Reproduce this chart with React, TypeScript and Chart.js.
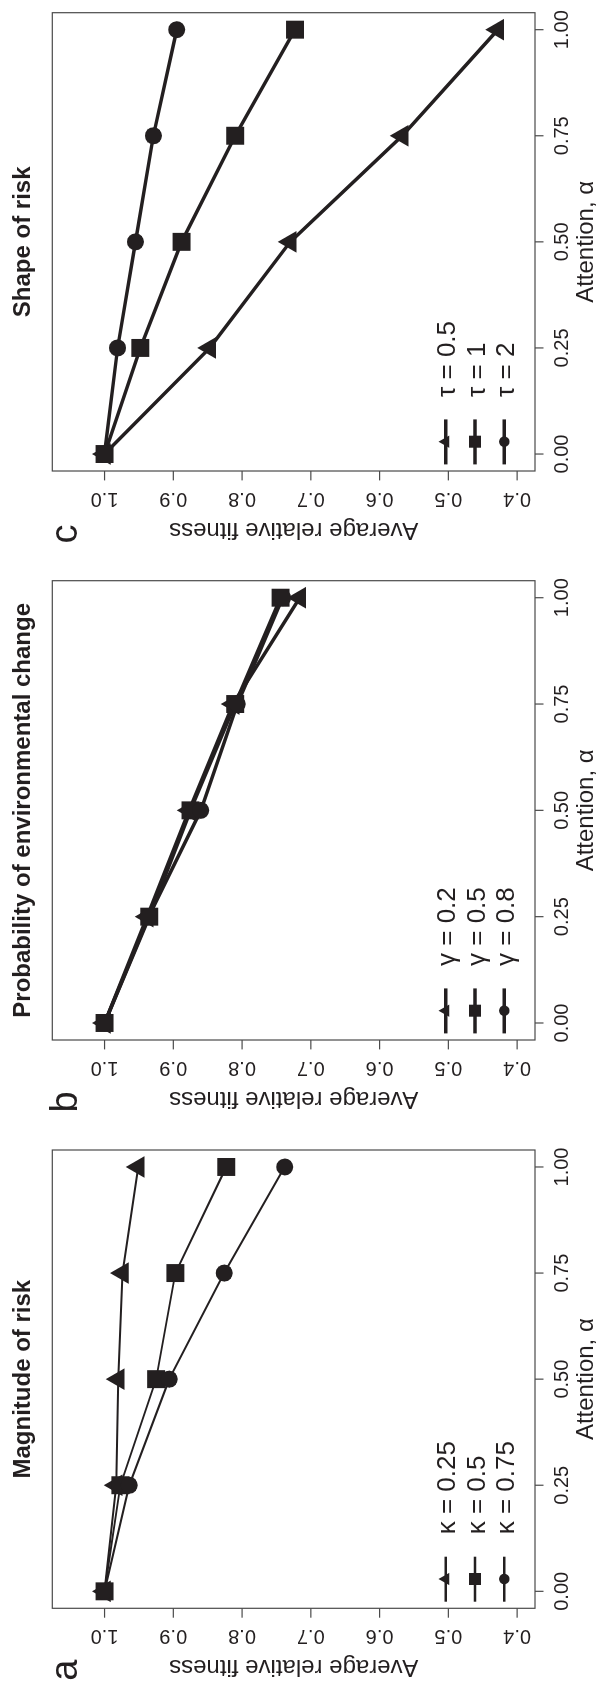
import React, { useEffect, useRef } from 'react';
import { Chart, registerables } from 'chart.js';

Chart.register(...registerables);

// ---------- data ----------
const attention = [0, 0.25, 0.5, 0.75, 1];

// Panel a: Magnitude of risk
const kappa025 = [1.0, 0.983, 0.98, 0.974, 0.951];
const kappa05 = [1.0, 0.977, 0.925, 0.897, 0.823];
const kappa075 = [1.0, 0.964, 0.906, 0.826, 0.738];

// Panel b: Probability of environmental change
const gamma02 = [1.0, 0.938, 0.877, 0.813, 0.716];
const gamma05 = [1.0, 0.935, 0.875, 0.81, 0.744];
const gamma08 = [1.0, 0.936, 0.86, 0.807, 0.741];

// Panel c: Shape of risk
const tau05 = [1.0, 0.847, 0.73, 0.567, 0.428];
const tau1 = [1.0, 0.948, 0.888, 0.81, 0.723];
const tau2 = [1.0, 0.981, 0.955, 0.929, 0.895];

const xTickValues = [0, 0.25, 0.5, 0.75, 1];
const xTickLabels = ['0.00', '0.25', '0.50', '0.75', '1.00'];
const yTickValues = [0.4, 0.5, 0.6, 0.7, 0.8, 0.9, 1.0];
const yTickLabels = ['0.4', '0.5', '0.6', '0.7', '0.8', '0.9', '1.0'];

const panelTitles = ['Magnitude of risk', 'Probability of environmental change', 'Shape of risk'];
const panelLetters = ['a', 'b', 'c'];
const legendA = ['\u03BA = 0.25', '\u03BA = 0.5', '\u03BA = 0.75'];
const legendB = ['\u03B3 = 0.2', '\u03B3 = 0.5', '\u03B3 = 0.8'];
const legendC = ['\u03C4 = 0.5', '\u03C4 = 1', '\u03C4 = 2'];
const xAxisTitle = 'Attention, \u03B1';
const yAxisTitle = 'Average relative fitness';

// ---------- style ----------
const INK = '#231f20';
const BOX = '#4a4a4a';
const FONT = '"Liberation Sans", Arial, Helvetica, sans-serif';
const PANEL_W = 562;
const PANEL_H = 605;

const pointStyles = ['triangle', 'rect', 'circle'];
const pointRadii = [12.5, 12.7, 8.5];
const legendRadii = [7.1, 8.5, 5.3];

const panels = [
  {
    title: panelTitles[0], letter: panelLetters[0], legend: legendA,
    series: [kappa025, kappa05, kappa075], lineWidth: 2, legendLineWidth: 2.5,
    padding: { left: 77.7, right: 26, top: 52.3, bottom: 70 },
  },
  {
    title: panelTitles[1], letter: panelLetters[1], legend: legendB,
    series: [gamma02, gamma05, gamma08], lineWidth: 3.5, legendLineWidth: 3.5,
    padding: { left: 84, right: 18.7, top: 52.3, bottom: 70 },
  },
  {
    title: panelTitles[2], letter: panelLetters[2], legend: legendC,
    series: [tau05, tau1, tau2], lineWidth: 3.5, legendLineWidth: 3.5,
    padding: { left: 91, right: 12.3, top: 52.3, bottom: 70 },
  },
];

function drawMarker(ctx: CanvasRenderingContext2D, style: string, x: number, y: number, r: number) {
  ctx.beginPath();
  if (style === 'triangle') {
    ctx.moveTo(x, y - r);
    ctx.lineTo(x + (r * Math.sqrt(3)) / 2, y + r / 2);
    ctx.lineTo(x - (r * Math.sqrt(3)) / 2, y + r / 2);
    ctx.closePath();
  } else if (style === 'rect') {
    const s = r * Math.SQRT1_2;
    ctx.rect(x - s, y - s, 2 * s, 2 * s);
  } else {
    ctx.arc(x, y, r, 0, Math.PI * 2);
  }
  ctx.fill();
}

function makeFramePlugin(cfg: any) {
  return {
    id: 'frame_' + cfg.letter,
    beforeDatasetsDraw(chart: any) {
      const { ctx, chartArea: ca } = chart;
      ctx.save();
      ctx.strokeStyle = BOX;
      ctx.lineWidth = 1.2;
      ctx.strokeRect(ca.left, ca.top, ca.right - ca.left, ca.bottom - ca.top);
      ctx.restore();
    },
    afterDraw(chart: any) {
      const { ctx, chartArea: ca, scales } = chart;
      const xs = scales.x;
      const ys = scales.y;
      ctx.save();
      // x ticks
      ctx.strokeStyle = BOX;
      ctx.lineWidth = 1.2;
      ctx.fillStyle = INK;
      ctx.font = `20px ${FONT}`;
      ctx.textAlign = 'center';
      ctx.textBaseline = 'alphabetic';
      xTickValues.forEach((v, i) => {
        const px = xs.getPixelForValue(v);
        ctx.beginPath();
        ctx.moveTo(px, ca.bottom);
        ctx.lineTo(px, ca.bottom + 8.5);
        ctx.stroke();
        ctx.fillText(xTickLabels[i], px, ca.bottom + 33);
      });
      // y ticks
      yTickValues.forEach((v, i) => {
        const py = ys.getPixelForValue(v);
        ctx.beginPath();
        ctx.moveTo(ca.left, py);
        ctx.lineTo(ca.left - 9.4, py);
        ctx.stroke();
        ctx.save();
        ctx.translate(ca.left - 21.7, py);
        ctx.rotate(-Math.PI / 2);
        ctx.fillText(yTickLabels[i], 0, 0);
        ctx.restore();
      });
      // axis titles
      ctx.font = `24px ${FONT}`;
      ctx.fillText(xAxisTitle, (ca.left + ca.right) / 2, 593);
      ctx.save();
      ctx.translate(ca.left - 51.7, (ca.top + ca.bottom) / 2);
      ctx.rotate(-Math.PI / 2);
      ctx.fillText(yAxisTitle, 0, 0);
      ctx.restore();
      // main title
      ctx.font = `bold 24px ${FONT}`;
      ctx.fillText(cfg.title, (ca.left + ca.right) / 2, 30);
      // panel letter
      ctx.font = `38px ${FONT}`;
      ctx.textAlign = 'left';
      ctx.fillText(cfg.letter, ca.left - 72.5, 77);
      // legend
      const offsets = [89.3, 60, 30.7];
      ctx.font = `26px ${FONT}`;
      offsets.forEach((off, i) => {
        const ly = ca.bottom - off;
        ctx.strokeStyle = INK;
        ctx.lineWidth = cfg.legendLineWidth;
        ctx.beginPath();
        ctx.moveTo(ca.left + 6.6, ly);
        ctx.lineTo(ca.left + 51.6, ly);
        ctx.stroke();
        ctx.fillStyle = INK;
        drawMarker(ctx, pointStyles[i], ca.left + 29.3, ly, legendRadii[i]);
        ctx.fillText(cfg.legend[i], ca.left + 74, ly + 9.5);
      });
      ctx.restore();
    },
  };
}

function Panel({ cfg, left }: { cfg: any; left: number }) {
  const ref = useRef<HTMLCanvasElement | null>(null);
  useEffect(() => {
    if (!ref.current) return;
    const chart = new Chart(ref.current, {
      type: 'line',
      data: {
        datasets: cfg.series.map((vals: number[], i: number) => ({
          label: cfg.legend[i],
          data: attention.map((a, j) => ({ x: a, y: vals[j] })),
          borderColor: INK,
          backgroundColor: INK,
          borderWidth: cfg.lineWidth,
          pointStyle: pointStyles[i],
          pointRadius: pointRadii[i],
          pointHoverRadius: pointRadii[i],
          pointBackgroundColor: INK,
          pointBorderColor: INK,
          pointBorderWidth: 0,
          tension: 0,
          fill: false,
          clip: false,
          order: 2 - i,
        })),
      },
      options: {
        responsive: false,
        maintainAspectRatio: false,
        animation: false,
        devicePixelRatio: 1,
        events: [],
        layout: { padding: cfg.padding },
        plugins: {
          legend: { display: false },
          tooltip: { enabled: false },
          title: { display: false },
        },
        scales: {
          x: { type: 'linear', min: -0.04, max: 1.04, display: false },
          y: { type: 'linear', min: 0.374, max: 1.076, display: false },
        },
      },
      plugins: [makeFramePlugin(cfg)],
    } as any);
    return () => chart.destroy();
  }, []);
  return (
    <canvas
      ref={ref}
      width={PANEL_W}
      height={PANEL_H}
      style={{ position: 'absolute', left, top: 0, width: PANEL_W, height: PANEL_H }}
    />
  );
}

export default function App() {
  return (
    <div
      style={{
        position: 'fixed',
        left: 0,
        top: 0,
        width: 605,
        height: 1686,
        overflow: 'hidden',
        background: '#ffffff',
      }}
    >
      <div
        style={{
          position: 'absolute',
          left: 0,
          top: 0,
          width: 1686,
          height: 605,
          transformOrigin: '0 0',
          transform: 'translate(0px, 1686px) rotate(-90deg)',
        }}
      >
        {panels.map((cfg, i) => (
          <Panel key={cfg.letter} cfg={cfg} left={i * PANEL_W} />
        ))}
      </div>
    </div>
  );
}
